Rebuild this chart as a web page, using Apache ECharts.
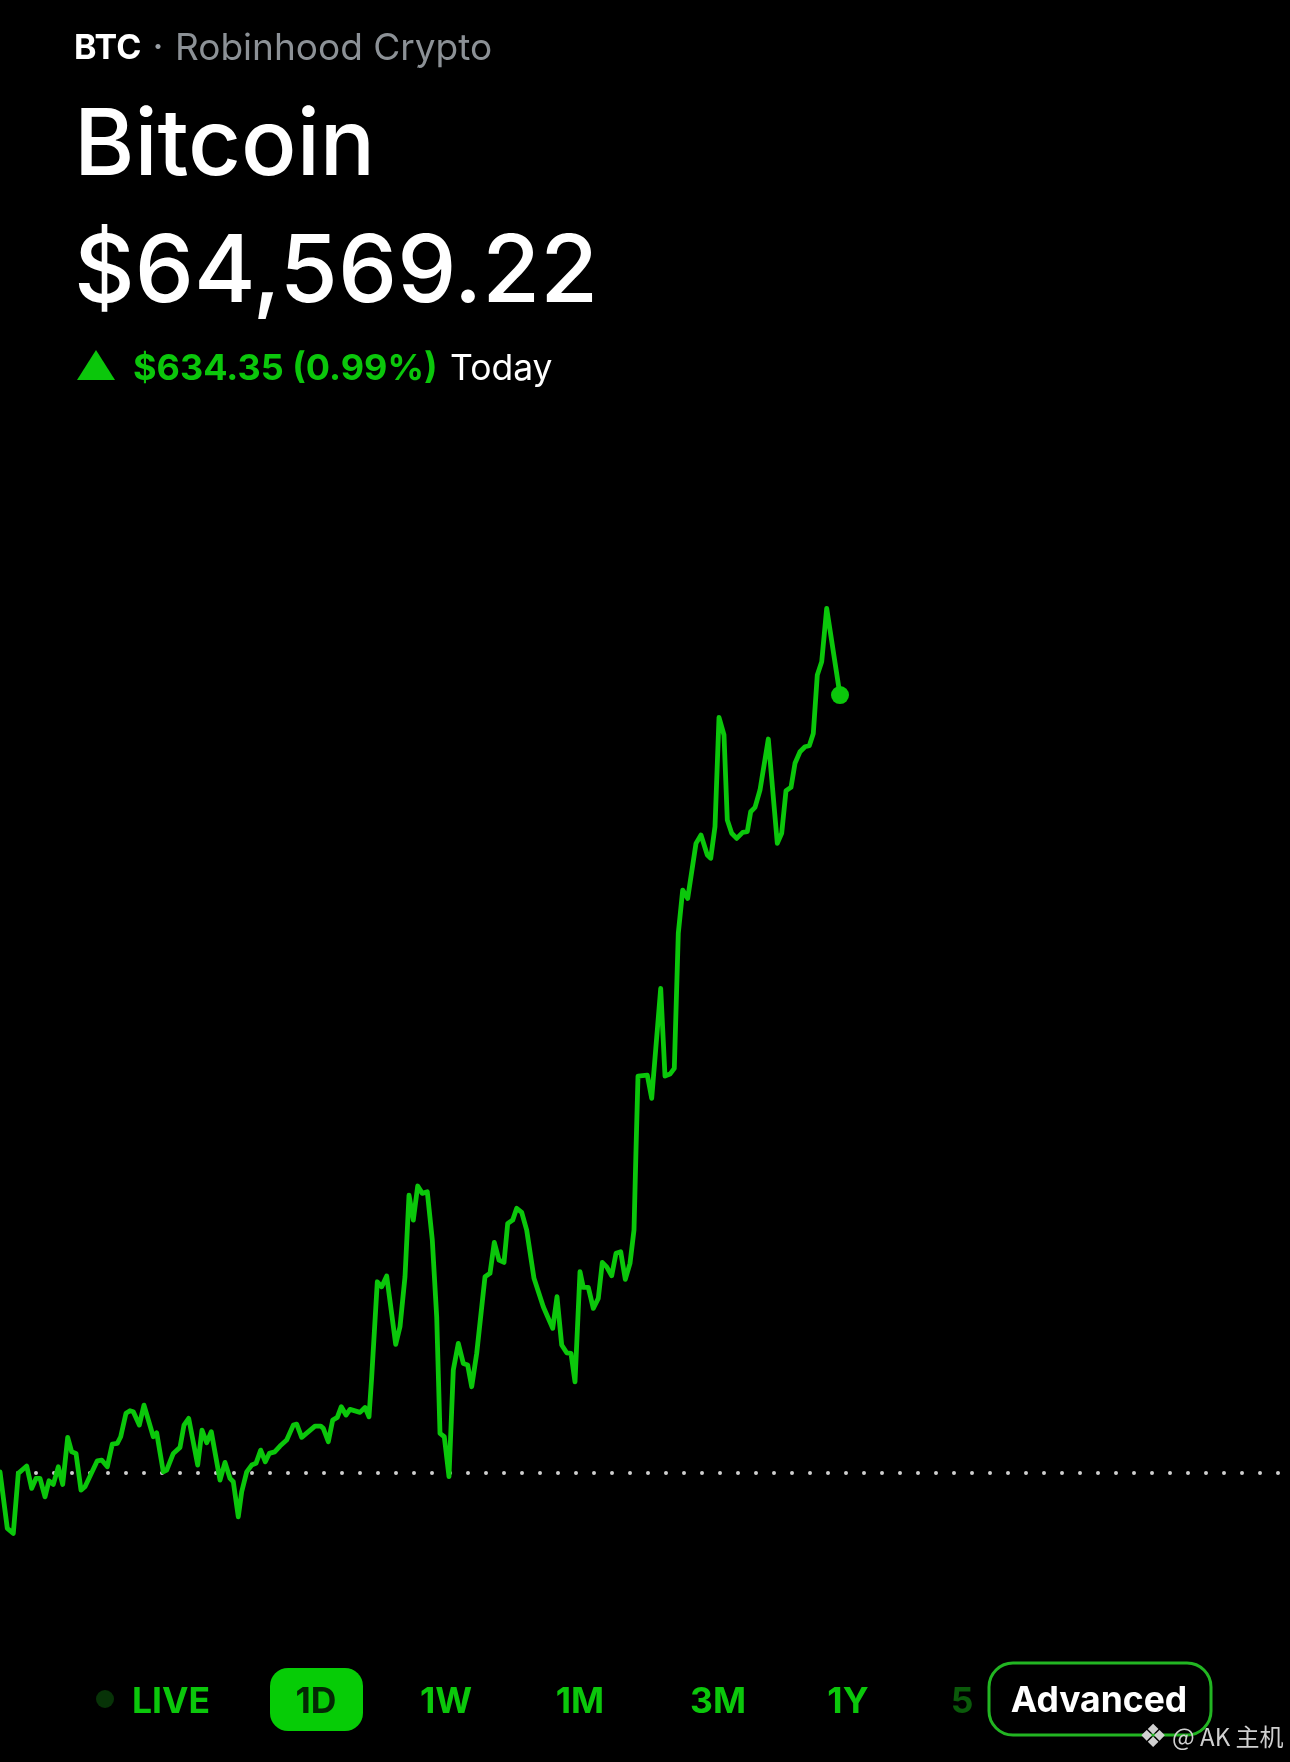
<!DOCTYPE html>
<html><head><meta charset="utf-8">
<style>html,body{margin:0;padding:0;background:#000}#c{width:1290px;height:1762px}</style>
<script src="https://cdn.jsdelivr.net/npm/echarts@6/dist/echarts.min.js"></script>
</head><body><div id="c"></div>
<script>
const symbol = 'BTC';
const venue = 'Robinhood Crypto';
const assetName = 'Bitcoin';
const lastPrice = '$64,569.22';
const dayChange = '$634.35 (0.99%)';
const periodLabel = 'Today';
const rangeTabs = ['LIVE','1D','1W','1M','3M','1Y','5'];
const previousClose = 63934.87;
// minutes from the left edge of the session
const minutes = [0,7.3,13.3,18.3,26.7,31.7,36,40,45,49,53.3,58.3,62.7,67.7,71.7,76,81,85,97.3,101.7,107.3,112.3,117.3,120.7,126,130,133.3,139.3,144,153.3,156.7,163.3,166.7,173.3,180,184,188.7,197.7,202,206.7,211.3,220,225,230,233.3,238.3,241.7,246.7,251.7,256,260.7,265.3,269.3,274.7,280,286.7,293.3,296.7,301.7,315,320.7,323.3,328.3,332.7,337.3,341.3,346,350,360,365,369,371.7,377.3,381.7,386.7,395.7,400,405,409,413.3,417.7,422.3,427.3,432.3,436.7,440,444.3,449,453.3,458.3,463.3,467.7,471.7,476.7,485,490,494.3,499,504,507.7,512.7,516.7,521.7,526.7,534,543.3,552.7,557,561.7,566.7,571,575,580,583.3,588.3,593.3,598.3,602.3,606.7,611.7,616,620.7,625.3,630,634,636,638,647.3,651.7,660.7,665,670,674.3,678.3,682.7,687.7,696,701,707.3,710.7,715,719,724,727.3,731.7,736.7,742.7,747.3,750.7,755,760,768.3,777.3,781.7,786,791,795,800,805,809.3,813.3,817.3,821.7,826.7,840];
const prices = [63935.6,63889.5,63885.4,63934.3,63940.3,63922.1,63930.2,63930.2,63915.2,63928.3,63925.3,63939.7,63925.3,63963.7,63951.9,63950.6,63920.7,63923.4,63944.6,63945.2,63939.7,63958.2,63958.8,63964.2,63983.3,63985.4,63984.6,63973.7,63990.0,63964.2,63967.4,63935.6,63937.0,63950.6,63955.5,63973.7,63979.2,63941.1,63969.6,63959.3,63968.3,63928.9,63943.3,63930.2,63927.5,63898.9,63919.3,63935.6,63941.1,63942.5,63953.3,63943.8,63950.6,63951.9,63956.6,63961.5,63973.7,63974.5,63963.7,63972.9,63972.9,63971.0,63960.1,63977.8,63980.0,63988.7,63981.9,63986.5,63984.1,63988.1,63980.5,64013.1,64090.6,64086.5,64095.3,64039.5,64053.9,64094.7,64161.3,64140.9,64168.7,64162.7,64164.0,64124.6,64062.0,63966.9,63964.2,63931.6,64018.6,64040.4,64024.0,64022.7,64005.0,64032.2,64094.7,64097.5,64122.8,64108.3,64106.4,64138.2,64140.9,64150.5,64147.2,64132.8,64093.4,64070.2,64052.6,64078.4,64039.0,64032.7,64032.2,64009.0,64098.8,64086.0,64086.0,64068.9,64077.1,64106.4,64102.8,64095.5,64113.8,64115.1,64092.6,64105.6,64132.8,64198.0,64258.4,64259.2,64240.2,64329.9,64258.4,64260.0,64264.7,64374.8,64410.1,64403.3,64448.2,64455.0,64438.7,64436.0,64461.8,64551.0,64536.6,64467.2,64456.4,64452.3,64457.2,64457.7,64474.0,64477.6,64491.7,64533.3,64448.2,64456.4,64491.1,64493.9,64513.5,64522.9,64527.0,64527.8,64537.9,64585.5,64596.3,64639.9,64569.2];

const GREEN = '#0bc70b';
const SANS = 'Inter, "Liberation Sans", sans-serif';
const points = minutes.map((m,i)=>[m,prices[i]]);

function txt(text,x,y,font,fill,align,extra){
  return Object.assign({type:'text',silent:true,z:20,style:{text,x,y,font,fill,textAlign:align||'left',textVerticalAlign:'middle'}},extra||{});
}
const tabX = [171,316,446,580,718,848,962];
const graphics = [
  txt(symbol,74,49,'bold 34px '+SANS,'#fff'),
  txt('·',153,48,'bold 30px '+SANS,'#9aa0a6'),
  txt(venue,175,49,'37px '+SANS,'#8c9196'),
  txt(assetName,74,147,'500 92px '+SANS,'#fff'),
  txt(lastPrice,74,274,'500 94px '+SANS,'#fff'),
  {type:'polygon',silent:true,z:20,shape:{points:[[96,350],[115,380],[77,380]]},style:{fill:GREEN}},
  txt(dayChange,133,369,'bold 36px '+SANS,GREEN),
  txt(periodLabel,450,369,'35.5px '+SANS,'#fff'),
  {type:'circle',silent:true,z:20,shape:{cx:105,cy:1699,r:9},style:{fill:'#073307'}},
  {type:'rect',silent:true,z:19,shape:{x:270,y:1668,width:93,height:63,r:18},style:{fill:'#06cc06'}},
  {type:'rect',silent:true,z:21,shape:{x:989,y:1663,width:222,height:72,r:24},style:{fill:'#000',stroke:'#22b522',lineWidth:3}}
];
rangeTabs.forEach((t,i)=>{
  const fill = i===1?'#042804':(i===6?'#0a5a0a':GREEN);
  graphics.push(txt(t,tabX[i],1702,'bold 35.5px '+SANS,fill,'center'));
});
graphics.push(txt('Advanced',1099,1701,'bold 35.5px '+SANS,'#fff','center',{z:22}));
graphics.push(txt('❖',1153,1739,'32px "DejaVu Sans"','#d0d0d0','center',{z:23}));
graphics.push(txt('@ AK 主机',1172,1737,'24px "Noto Sans CJK SC"','#d0d0d0','left',{z:23}));

const chart = echarts.init(document.getElementById('c'),null,{renderer:'canvas'});
chart.setOption({
  backgroundColor:'#000',
  animation:false,
  grid:{left:0,right:0,top:0,bottom:0},
  xAxis:{type:'value',min:0,max:1290,show:false},
  yAxis:{type:'value',min:63698.9,max:65136.1,show:false},
  graphic:graphics,
  series:[
    {type:'line',data:points,showSymbol:false,symbol:'none',z:5,
     lineStyle:{color:GREEN,width:4.8,join:'round',cap:'round'},
     markLine:{silent:true,symbol:'none',animation:false,z:1,label:{show:false},
       lineStyle:{color:'#cfcfcf',width:4,type:[0.001,17.999],cap:'round'},
       data:[{yAxis:previousClose}]}},
    {type:'scatter',data:[points[points.length-1]],symbol:'circle',symbolSize:18,z:6,
     itemStyle:{color:'#0bc70b',opacity:1}}
  ]
});
</script></body></html>
